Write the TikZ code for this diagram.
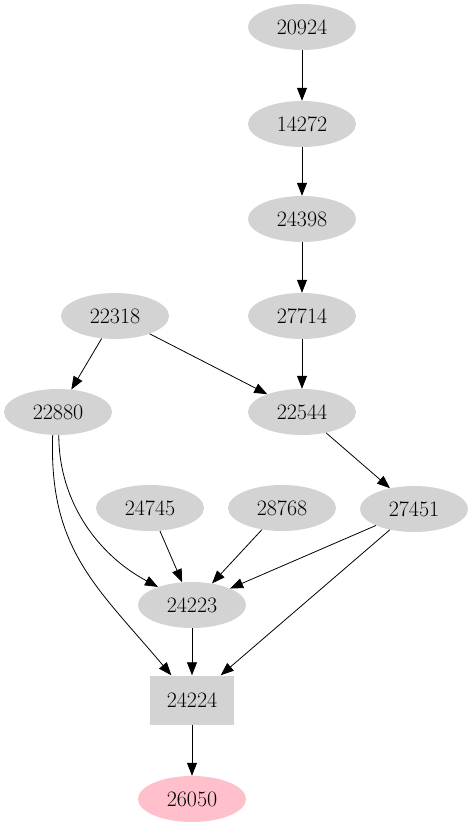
\documentclass[tikz,border=0pt]{standalone}
\usepackage{tikz}
\usepackage{xcolor}
\definecolor{Nodegray}{HTML}{D3D3D3}
\definecolor{Nodepink}{HTML}{FFC0CB}
\usetikzlibrary{shapes.geometric, arrows.meta}
\tikzstyle{oval} = [
    ellipse,
    fill=Nodegray,
    minimum width=108pt,
    minimum height=46pt,
    inner sep=0pt,
    font=\fontsize{22}{26}\selectfont
]
\tikzstyle{boxnode} = [
    rectangle,
    fill=Nodegray,
    minimum width=84pt,
    minimum height=49pt,
    inner sep=0pt,
    font=\fontsize{22}{26}\selectfont
]
\tikzstyle{arrow} = [
    thick,
    -{Triangle[length=13pt,width=10pt]}
]

\begin{document}
\begin{tikzpicture}[x=1pt, y=-1pt]
    \useasboundingbox (0,0) rectangle (473,827);
    % Right chain
    \node[oval] (n20924) at (302,27) {20924};
    \node[oval] (n14272) at (302,124) {14272};
    \node[oval] (n24398) at (302,219) {24398};
    \node[oval] (n27714) at (302,316) {27714};
    \node[oval] (n22318) at (115,316) {22318};
    \node[oval] (n22880) at (58,412) {22880};
    \node[oval] (n22544) at (302,412) {22544};
    % Middle row
    \node[oval] (n24745) at (150,508) {24745};
    \node[oval] (n28768) at (282,508) {28768};
    \node[oval] (n27451) at (414,509) {27451};
    \node[oval] (n24223) at (192,605) {24223};
    % Bottom
    \node[boxnode] (n24224) at (192,700) {24224};
    \node[oval, fill=Nodepink] (n26050) at (192,799) {26050};
    % Edges
    \draw[arrow] (n20924) -- (n14272);
    \draw[arrow] (n14272) -- (n24398);
    \draw[arrow] (n24398) -- (n27714);
    \draw[arrow] (n27714) -- (n22544);
    \draw[arrow] (n22318) -- (n22880);
    \draw[arrow] (n22318) -- (n22544);
    \draw[arrow] (n22544) -- (n27451);
    \draw[arrow] (n22880.272) to[out=-90, in=152, looseness=0.95] (n24223);
    \draw[arrow] (n22880.257) to[out=-92, in=130, looseness=1.1] (n24224);
    \draw[arrow] (n24745) -- (n24223);
    \draw[arrow] (n28768) -- (n24223);
    \draw[arrow] (n27451) -- (n24223);
    \draw[arrow] (n27451) -- (n24224);
    \draw[arrow] (n24223) -- (n24224);
    \draw[arrow] (n24224) -- (n26050);
\end{tikzpicture}
\end{document}
